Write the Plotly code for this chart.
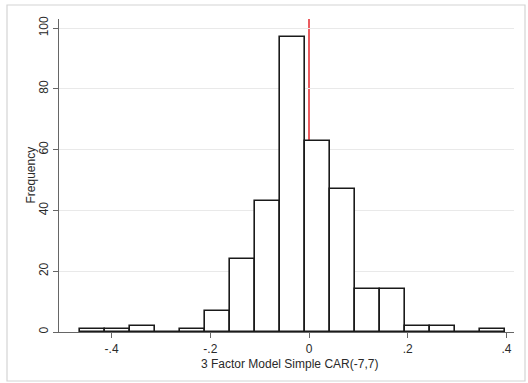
import plotly.graph_objects as go

# Histogram data (Stata-style, 17 bins)
bin_start = -0.464
bin_width = 0.0507
counts = [1, 1, 2, 0, 1, 7, 24, 43, 97, 63, 47, 14, 14, 2, 2, 0, 1]
x_tick_vals = [-0.4, -0.2, 0, 0.2, 0.4]
x_tick_text = ["-.4", "-.2", "0", ".2", ".4"]
y_tick_vals = [0, 20, 40, 60, 80, 100]
x_title = "3 Factor Model Simple CAR(-7,7)"
y_title = "Frequency"
ref_value = 0

centers = [bin_start + bin_width * (i + 0.5) for i in range(len(counts))]

fig = go.Figure()
fig.add_trace(go.Bar(
    x=centers, y=counts, width=[bin_width] * len(counts),
    marker=dict(color="white", line=dict(color="#1a1a1a", width=1.6)),
    showlegend=False, hoverinfo="skip",
))

fig.add_shape(type="line", xref="x", yref="y", x0=ref_value, x1=ref_value,
              y0=0, y1=103, line=dict(color="#e5262b", width=1.5), layer="below")

# outer graph-region border
fig.add_shape(type="rect", xref="paper", yref="paper",
              x0=(7 - 59) / 455, x1=(525 - 59) / 455,
              y0=(332 - 381) / 313, y1=(332 - 5) / 313,
              line=dict(color="#d4d4d4", width=1.2), fillcolor="rgba(0,0,0,0)", layer="above")

font = dict(family="Liberation Sans, Arial, sans-serif", size=12, color="#2a2a2a")

fig.add_annotation(text=y_title, xref="paper", yref="paper",
                   x=(30 - 59) / 455, y=0.5, textangle=-90, showarrow=False,
                   xanchor="center", yanchor="middle", font=font)
fig.add_annotation(text=x_title, xref="paper", yref="paper",
                   x=(289 - 59) / 455, y=(332 - 364) / 313, showarrow=False,
                   xanchor="center", yanchor="middle", font=font)

fig.update_layout(
    width=528, height=383,
    margin=dict(l=59, r=14, t=19, b=51),
    paper_bgcolor="white", plot_bgcolor="white",
    font=font, bargap=0,
    xaxis=dict(
        range=[-0.5066, 0.4154], tickvals=x_tick_vals, ticktext=x_tick_text,
        showgrid=False, zeroline=False, showline=True, linecolor="#666666", linewidth=1.2,
        ticks="outside", ticklen=5, tickcolor="#666666", tickwidth=1,
        ticklabelstandoff=0,
        tickfont=font,
    ),
    yaxis=dict(
        range=[0, 103], tickvals=y_tick_vals, tickangle=-90,
        showgrid=True, gridcolor="#e9e9e9", gridwidth=1,
        zeroline=False, showline=True, linecolor="#666666", linewidth=1.2,
        ticks="outside", ticklen=5, tickcolor="#666666", tickwidth=1,
        ticklabelstandoff=0,
        tickfont=font,
    ),
)

fig.write_html("out.html", config={"displayModeBar": False},
               post_script="document.body.style.margin='0';document.body.style.overflow='hidden';")
